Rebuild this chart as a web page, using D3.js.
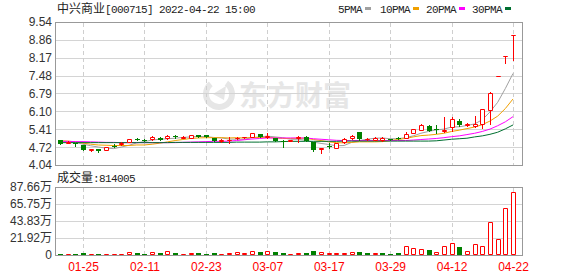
<!DOCTYPE html>
<html>
<head>
<meta charset="utf-8">
<script src="https://cdn.jsdelivr.net/npm/d3@7/dist/d3.min.js"></script>
<style>
body{margin:0;background:#fff;}
svg{display:block;}
</style>
</head>
<body>
<div id="chart"></div>
<script>
// trading days shown (MM-DD)
var dates = ["01-20","01-21","01-24","01-25","01-26","01-27","01-28","02-07","02-08","02-09",
  "02-10","02-11","02-14","02-15","02-16","02-17","02-18","02-21","02-22","02-23",
  "02-24","02-25","02-28","03-01","03-02","03-03","03-04","03-07","03-08","03-09",
  "03-10","03-11","03-14","03-15","03-16","03-17","03-18","03-21","03-22","03-23",
  "03-24","03-25","03-28","03-29","03-30","03-31","04-01","04-06","04-07","04-08",
  "04-11","04-12","04-13","04-14","04-15","04-18","04-19","04-20","04-21","04-22"];
var tickDates = ["01-25","02-11","02-23","03-07","03-17","03-29","04-12","04-22"];

var opens = [4.99,4.90,4.87,4.80,4.60,4.64,4.61,4.79,4.83,4.93,
  5.03,5.01,5.03,5.09,5.06,5.16,5.08,5.08,5.19,5.18,
  5.06,4.96,4.99,5.07,5.10,5.12,5.23,5.13,5.06,4.95,
  4.96,5.07,5.13,4.91,4.64,4.79,4.70,4.94,5.08,5.31,
  5.03,5.01,5.02,5.03,5.07,5.09,5.28,5.38,5.55,5.42,
  5.36,5.49,5.75,5.56,5.55,5.62,6.16,7.48,8.23,9.05];
var highs = [5.00,4.95,4.88,4.81,4.67,4.65,4.74,4.85,4.92,5.05,
  5.06,5.03,5.14,5.10,5.18,5.19,5.15,5.20,5.20,5.19,
  5.07,5.03,5.12,5.11,5.13,5.28,5.25,5.27,5.07,4.99,
  5.02,5.16,5.14,4.92,4.71,4.87,4.88,5.07,5.19,5.32,
  5.07,5.10,5.10,5.04,5.10,5.32,5.43,5.62,5.58,5.58,
  5.90,5.90,5.79,5.65,5.93,6.20,6.84,7.48,8.23,9.05];
var lows = [4.85,4.88,4.79,4.62,4.58,4.55,4.60,4.74,4.82,4.92,
  4.99,4.95,5.02,5.01,5.05,5.08,5.06,5.07,5.12,5.11,
  4.95,4.94,4.90,5.05,5.08,5.11,5.12,5.08,4.95,4.73,
  4.95,4.92,4.96,4.58,4.51,4.68,4.69,4.88,5.03,5.02,
  5.02,5.00,4.97,5.00,5.04,5.08,5.26,5.37,5.34,5.26,
  5.32,5.36,5.53,5.55,5.50,5.45,5.63,7.48,7.95,8.08];
var closes = [4.86,4.92,4.83,4.63,4.66,4.59,4.72,4.77,4.90,5.03,
  5.02,4.96,5.11,5.02,5.16,5.10,5.13,5.18,5.13,5.12,
  4.96,5.00,5.00,5.09,5.11,5.27,5.13,5.14,4.96,4.93,
  5.00,5.10,4.97,4.60,4.70,4.77,4.87,5.03,5.17,5.04,
  5.05,5.08,5.07,5.01,5.06,5.23,5.41,5.57,5.36,5.40,
  5.38,5.80,5.59,5.62,5.62,6.19,6.80,7.48,8.23,9.05];

var ma5 = [4.95,4.94,4.91,4.84,4.78,4.73,4.69,4.67,4.73,4.80,
  4.89,4.94,5.00,5.03,5.05,5.07,5.10,5.12,5.14,5.13,
  5.10,5.08,5.04,5.03,5.03,5.09,5.12,5.15,5.12,5.09,
  5.03,5.03,4.99,4.92,4.87,4.83,4.78,4.79,4.91,4.98,
  5.03,5.07,5.08,5.05,5.05,5.09,5.16,5.26,5.33,5.39,
  5.42,5.50,5.51,5.56,5.62,5.78,6.08,6.45,6.98,7.56];
var ma10 = [4.97,4.96,4.93,4.88,4.84,4.81,4.80,4.79,4.79,4.79,
  4.81,4.81,4.84,4.88,4.93,4.98,5.02,5.06,5.08,5.09,
  5.09,5.09,5.08,5.09,5.08,5.10,5.10,5.10,5.08,5.06,
  5.06,5.07,5.07,5.02,4.98,4.93,4.90,4.89,4.91,4.93,
  4.93,4.93,4.94,4.98,5.02,5.06,5.12,5.17,5.19,5.22,
  5.26,5.33,5.38,5.44,5.50,5.59,5.73,5.92,6.21,6.58];
var ma20 = [4.95,4.95,4.94,4.94,4.93,4.92,4.91,4.91,4.90,4.90,
  4.90,4.90,4.90,4.90,4.90,4.90,4.91,4.92,4.93,4.94,
  4.95,4.95,4.96,4.98,5.01,5.04,5.06,5.08,5.08,5.08,
  5.08,5.08,5.08,5.05,5.03,5.01,4.99,4.98,4.98,4.98,
  4.98,4.98,4.98,4.98,4.98,4.98,5.00,5.02,5.04,5.06,
  5.09,5.13,5.16,5.21,5.26,5.33,5.42,5.55,5.70,5.90];
var ma30 = [4.90,4.90,4.90,4.90,4.90,4.90,4.90,4.90,4.90,4.90,
  4.90,4.90,4.90,4.90,4.90,4.91,4.91,4.91,4.91,4.91,
  4.91,4.91,4.91,4.92,4.92,4.92,4.92,4.93,4.93,4.94,
  4.95,4.95,4.95,4.95,4.95,4.95,4.95,4.96,4.96,4.96,
  4.96,4.96,4.96,4.96,4.96,4.96,4.96,4.96,4.96,4.97,
  5.00,5.03,5.05,5.07,5.12,5.16,5.22,5.30,5.43,5.58];

var volumes = [17000,13000,13000,26000,13000,12000,14000,12000,14000,35000,
  22000,13000,35000,26000,48000,26000,13000,26000,26000,14000,
  26000,13000,26000,35000,26000,48000,39000,48000,39000,26000,
  13000,22000,22000,52000,35000,22000,22000,22000,35000,35000,
  22000,22000,22000,9000,26000,116000,90000,77000,64000,35000,
  116000,155000,107000,48000,138000,116000,421000,206000,606000,814005];
// 1 = red (up) volume bar, 0 = green
var volUp = [0,1,0,0,1,0,1,1,1,1, 0,0,1,0,1,0,1,1,0,0,
  0,1,1,1,1,1,0,1,0,0, 1,1,0,0,1,1,1,1,1,0,
  0,1,0,0,0,1,1,1,0,1, 1,1,0,1,1,1,1,1,1,1];

var priceTicks = [4.04,4.72,5.41,6.10,6.79,7.48,8.17,8.86,9.54];
var volTicks = [0,219200,438300,657500,876600];

var maNames = ["5PMA","10PMA","20PMA","30PMA"];
var maColors = ["#a0a0a0","#f0a000","#ff00ff","#006f30"];
var maSeries = [ma5, ma10, ma20, ma30];

var red = "#ff0000", green = "#008000";
var left = 55, right = 522;

var svg = d3.select("#chart").append("svg")
  .attr("width", 578)
  .attr("height", 276)

var x = d3.scalePoint().domain(dates).range([60, 513])
var y = d3.scaleLinear().domain([4.04, 9.54]).range([165, 22])
var yv = d3.scaleLinear().domain([0, 876600]).range([255, 187])

function px(v){ return Math.round(v) + 0.5 }

// watermark
svg.append("path")
  .attr("d", d3.arc()({innerRadius: 10, outerRadius: 16, startAngle: 0.6, endAngle: 5.6}))
  .attr("transform", "translate(219,94)")
  .attr("fill", "#e6e6e6")
svg.append("path")
  .attr("d", "M213,94 L226,86 L224,100 Z")
  .attr("fill", "#e6e6e6")
svg.append("text")
  .attr("x", 239).attr("y", 106)
  .attr("font-family", "Noto Sans CJK SC")
  .attr("font-size", 28).attr("font-weight", "bold")
  .attr("fill", "#e6e6e6")
  .text("东方财富")

// grid
svg.append("g").selectAll("line")
  .data(priceTicks.slice(1, -1))
  .enter().append("line")
  .attr("x1", left).attr("x2", right)
  .attr("y1", function(d){ return px(y(d)) })
  .attr("y2", function(d){ return px(y(d)) })
  .attr("stroke", "#d4d4d4")

svg.append("g").selectAll("line")
  .data(volTicks.slice(1, -1))
  .enter().append("line")
  .attr("x1", left).attr("x2", right)
  .attr("y1", function(d){ return px(yv(d)) })
  .attr("y2", function(d){ return px(yv(d)) })
  .attr("stroke", "#d4d4d4")

var vg = svg.append("g").attr("stroke", "#cfcfcf").attr("stroke-dasharray", "4,3")
tickDates.forEach(function(d){
  vg.append("line").attr("x1", px(x(d))).attr("x2", px(x(d))).attr("y1", 23).attr("y2", 165)
  vg.append("line").attr("x1", px(x(d))).attr("x2", px(x(d))).attr("y1", 188).attr("y2", 255)
})

// frames
svg.append("rect").attr("x", left + 0.5).attr("y", 22.5).attr("width", right - left).attr("height", 143)
  .attr("fill", "none").attr("stroke", "#999")
svg.append("rect").attr("x", left + 0.5).attr("y", 187.5).attr("width", right - left).attr("height", 68)
  .attr("fill", "none").attr("stroke", "#999")

// moving averages
maSeries.forEach(function(s, k){
  svg.append("path")
    .datum(s)
    .attr("fill", "none")
    .attr("stroke", maColors[k])
    .attr("stroke-width", 1)
    .attr("d", d3.line()
      .x(function(d, i){ return x(dates[i]) })
      .y(function(d){ return y(d) }))
})

// candles
var candles = dates.map(function(d, i){
  return {date: d, o: opens[i], h: highs[i], l: lows[i], c: closes[i]}
})
var cg = svg.append("g")
cg.selectAll("line")
  .data(candles)
  .enter().append("line")
  .attr("x1", function(d){ return px(x(d.date)) })
  .attr("x2", function(d){ return px(x(d.date)) })
  .attr("y1", function(d){ return Math.round(y(d.h)) })
  .attr("y2", function(d){ return Math.round(y(d.l)) + 1 })
  .attr("stroke", function(d){ return d.c >= d.o ? red : green })

cg.selectAll("path")
  .data(candles)
  .enter().append("path")
  .attr("d", function(d){
    var cx = px(x(d.date))
    var top = Math.round(y(Math.max(d.o, d.c)))
    var bot = Math.round(y(Math.min(d.o, d.c)))
    if (d.c >= d.o)
      return "M" + (cx - 2) + "," + (top + 0.5) + "h4v" + (bot - top) + "h-4Z"
    return "M" + (cx - 2.5) + "," + top + "h5v" + Math.max(bot - top, 1) + "h-5Z"
  })
  .attr("fill", function(d){ return d.c >= d.o ? "#fff" : green })
  .attr("stroke", function(d){ return d.c >= d.o ? red : "none" })

// volume bars
svg.append("g").selectAll("path")
  .data(volumes)
  .enter().append("path")
  .attr("d", function(d, i){
    var cx = px(x(dates[i]))
    var top = Math.round(yv(d))
    if (volUp[i])
      return "M" + (cx - 2) + "," + (top + 0.5) + "h4v" + Math.max(254 - top, 0) + "h-4Z"
    return "M" + (cx - 2.5) + "," + top + "h5v" + (255 - top) + "h-5Z"
  })
  .attr("fill", function(d, i){ return volUp[i] ? "#fff" : green })
  .attr("stroke", function(d, i){ return volUp[i] ? red : "none" })

// axes
var yAxis = svg.append("g")
  .attr("transform", "translate(" + left + ",0)")
  .call(d3.axisLeft(y).tickValues(priceTicks).tickFormat(d3.format(".2f")).tickSize(0).tickPadding(3))
var vAxis = svg.append("g")
  .attr("transform", "translate(" + left + ",0)")
  .call(d3.axisLeft(yv).tickValues(volTicks)
    .tickFormat(function(d){ return d == 0 ? "0" : (d / 10000).toFixed(2) + "万" })
    .tickSize(0).tickPadding(3))
var xAxis = svg.append("g")
  .attr("transform", "translate(0,255)")
  .call(d3.axisBottom(x).tickValues(tickDates).tickSize(0).tickPadding(7))

;[yAxis, vAxis, xAxis].forEach(function(a){
  a.select(".domain").remove()
  a.selectAll("text")
    .attr("font-family", "'Liberation Sans', Arial, 'Noto Sans CJK SC'")
    .attr("font-size", 12)
    .attr("fill", "#333")
})
xAxis.selectAll("text").attr("fill", red)

// title and legend
var mono = "'Liberation Mono', monospace"
var title = svg.append("text").attr("x", 57).attr("y", 13).attr("fill", "#222")
title.append("tspan").attr("font-family", "Noto Sans CJK SC").attr("font-size", 12).text("中兴商业")
title.append("tspan").attr("font-family", mono).attr("font-size", 11).attr("letter-spacing", -0.6)
  .attr("xml:space", "preserve").text("[000715] 2022-04-22 15:00")

var legX = [338, 380, 426, 472]
maNames.forEach(function(n, k){
  svg.append("text").attr("x", legX[k]).attr("y", 13)
    .attr("font-family", mono).attr("font-size", 11).attr("letter-spacing", -0.6)
    .attr("fill", "#222").text(n)
  svg.append("rect").attr("x", legX[k] + n.length * 6 + 3).attr("y", 7)
    .attr("width", 6).attr("height", 3).attr("fill", maColors[k])
})

var vt = svg.append("text").attr("x", 57).attr("y", 182).attr("fill", "#222")
vt.append("tspan").attr("font-family", "Noto Sans CJK SC").attr("font-size", 12).text("成交量")
vt.append("tspan").attr("font-family", mono).attr("font-size", 11).attr("letter-spacing", -0.6)
  .text(":" + volumes[volumes.length - 1])
</script>
</body>
</html>
